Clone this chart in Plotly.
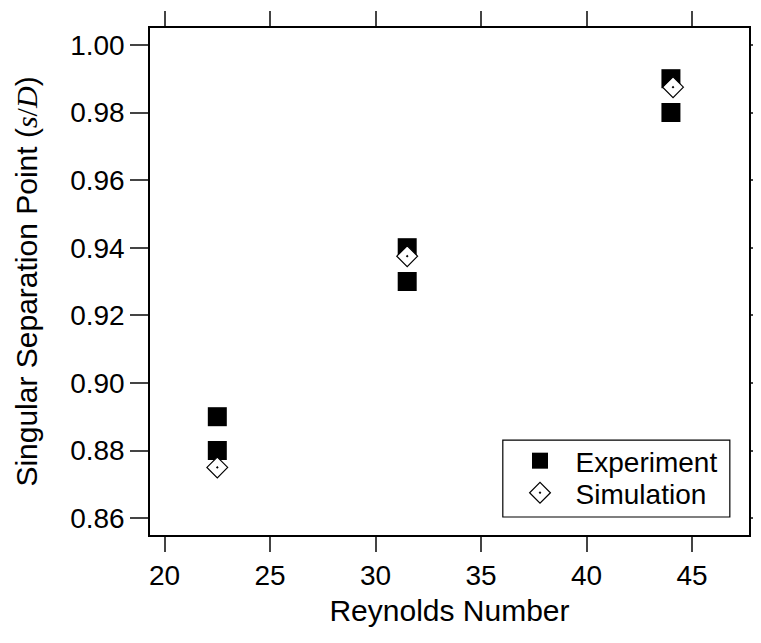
import plotly.graph_objects as go

exp_re = [22.5, 22.5, 31.5, 31.5, 44.0, 44.0]
exp_sd = [0.89, 0.88, 0.94, 0.93, 0.99, 0.98]
sim_re = [22.5, 31.5, 44.1]
sim_sd = [0.875, 0.9375, 0.9875]
x_ticks = [20, 25, 30, 35, 40, 45]
y_ticks = [0.86, 0.88, 0.90, 0.92, 0.94, 0.96, 0.98, 1.00]

fig = go.Figure()
fig.add_trace(go.Scatter(x=exp_re, y=exp_sd, mode="markers", name="\u00a0\u00a0Experiment",
                         legend="legend",
                         marker=dict(symbol="square", size=19, color="black")))
fig.add_trace(go.Scatter(x=sim_re, y=sim_sd, mode="markers", name="\u00a0\u00a0Simulation",
                         legend="legend2",
                         marker=dict(symbol="diamond-dot", size=16, color="white",
                                     line=dict(width=1.2, color="black"))))

# legend frame (paper coords)
fig.add_shape(type="rect", xref="paper", yref="paper", x0=0.589, x1=0.968, y0=0.0355, y1=0.187,
              line=dict(color="black", width=1.2), fillcolor="white", layer="below")

font = "Liberation Sans, Arial, sans-serif"
leg_common = dict(x=0.6177, xanchor="left", yanchor="middle", borderwidth=0,
                  bgcolor="rgba(0,0,0,0)", font=dict(size=28), itemsizing="trace")
fig.update_layout(
    width=753, height=635,
    margin=dict(l=142, r=12, t=20, b=108, autoexpand=False),
    plot_bgcolor="white", paper_bgcolor="white",
    font=dict(family=font, size=28, color="black"),
    showlegend=True,
    legend=dict(y=0.146, **leg_common),
    legend2=dict(y=0.0828, **leg_common),
    xaxis=dict(range=[19.31, 47.7], tickvals=x_ticks, ticks="outside", ticklen=15,
               tickwidth=1.5, showline=True, linewidth=1.5, linecolor="black",
               mirror="ticks", showgrid=False, zeroline=False, automargin=False,
               title=dict(text="Reynolds Number", font=dict(size=30), standoff=10)),
    yaxis=dict(range=[0.855, 1.005], tickvals=y_ticks, tickformat=".2f", ticks="outside",
               ticklen=18, tickwidth=1.5, showline=True, linewidth=1.5, linecolor="black",
               mirror="ticks", showgrid=False, zeroline=False, automargin=False,
               title=dict(text="Singular Separation Point (<span style='font-family:Liberation Serif,Times New Roman,serif'><i>s</i>/<i>D</i></span>)",
                          font=dict(size=30), standoff=24)),
)
fig.write_html("out.html")
